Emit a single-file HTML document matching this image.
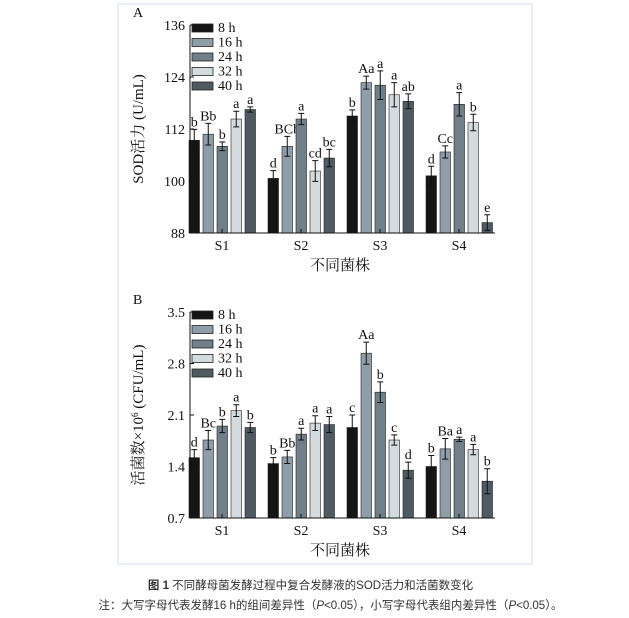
<!DOCTYPE html>
<html><head><meta charset="utf-8"><style>
body{margin:0;background:#fff;width:629px;height:618px;overflow:hidden;position:relative;font-family:"Liberation Serif","Noto Serif CJK SC",serif}
.cap{position:absolute;left:0;width:629px;text-align:center;font-family:"Liberation Sans","Noto Sans CJK SC",sans-serif;font-size:11.5px;color:#333;white-space:nowrap}
</style></head><body>
<svg id="fig" width="629" height="570" style="position:absolute;left:0;top:0" font-family="Liberation Serif, Noto Serif CJK SC, serif">
<rect x="118" y="4" width="414" height="560" fill="none" stroke="#d6e0e4" stroke-width="1"/>
</svg>
<div class="cap" style="top:577px;left:-4px"><b>图 1</b> 不同酵母菌发酵过程中复合发酵液的SOD活力和活菌数变化</div>
<div class="cap" style="top:597px;left:16px">注：大写字母代表发酵16 h的组间差异性（<i>P</i>&lt;0.05），小写字母代表组内差异性（<i>P</i>&lt;0.05）。</div>
<script>
const groups=["S1","S2","S3","S4"];
const seriesNames=["8 h","16 h","24 h","32 h","40 h"];
const sodValues=[[109.4,110.8,108.0,114.3,116.5],[100.6,108.0,114.3,102.3,105.3],[115.0,122.7,122.1,119.9,118.4],[101.2,106.7,117.7,113.5,90.4]];
const sodErrors=[[2.5,2.5,1.0,1.8,0.6],[1.8,2.3,1.3,2.4,2.0],[1.4,1.5,3.3,2.8,1.7],[2.2,1.4,2.7,1.9,1.8]];
const sodLabels=[["b","Bb","b","a","a"],["d","BCb","a","cd","bc"],["b","Aa","a","a","ab"],["d","Cc","a","b","e"]];
const sodTicks=[88,100,112,124,136];
const cfuValues=[[1.52,1.76,1.95,2.16,1.93],[1.44,1.53,1.84,1.99,1.97],[1.93,2.94,2.41,1.76,1.35],[1.40,1.64,1.77,1.63,1.20]];
const cfuErrors=[[0.11,0.13,0.09,0.08,0.07],[0.08,0.09,0.08,0.10,0.11],[0.17,0.15,0.14,0.07,0.11],[0.15,0.14,0.03,0.07,0.17]];
const cfuLabels=[["d","Bc","b","a","b"],["b","Bb","a","a","a"],["c","Aa","b","c","d"],["b","Ba","a","a","b"]];
const cfuTicks=[0.7,1.4,2.1,2.8,3.5];
const colors=["#151515","#8e9ea9","#6f8089","#d3dbde","#4e5b61"];
const NS="http://www.w3.org/2000/svg";
const svg=document.getElementById('fig');
function mk(tag,attrs,parent){const e=document.createElementNS(NS,tag);for(const k in attrs)e.setAttribute(k,attrs[k]);(parent||svg).appendChild(e);return e;}
function panel(p){
  const g=mk('g',{});
  
  
  const x0=190,xEnd=495,top=p.top,bot=p.bot,min=p.ticks[0],max=p.ticks[p.ticks.length-1];
  const y=v=>bot-(v-min)/(max-min)*(bot-top);
  const xs=(gi,si)=>189+gi*79+si*14;
  p.values.forEach((row,gi)=>row.forEach((v,si)=>{
    const bx=xs(gi,si),by=y(v);
    const r=mk('rect',{x:bx,y:by,width:10.5,height:bot-by,fill:colors[si],stroke:'#222','stroke-width':0.6},g);
    
    
    const e=p.errors[gi][si],cx=bx+5.25,yt=y(v+e),yb=y(v-e);
    const eb=mk('path',{d:`M${cx} ${yt}V${yb}M${cx-3} ${yt}H${cx+3}M${cx-3} ${yb}H${cx+3}`,stroke:'#111','stroke-width':1,fill:'none'},g);
    
    
    const t=mk('text',{x:cx,y:yt-3,'text-anchor':'middle','font-size':14,fill:'#111'},g);
    
    
    t.textContent=p.labels[gi][si];
  }));
  const ax=mk('path',{d:`M${x0} ${top}V${bot}H${xEnd}`,stroke:'#111','stroke-width':1,fill:'none'},g);
  
  
  p.ticks.forEach(tv=>{
    const ty=y(tv);
    mk('path',{d:`M${x0} ${ty}H${x0+4}`,stroke:'#111'},g);
    const t=mk('text',{x:x0-5,y:ty+5,'text-anchor':'end','font-size':14,fill:'#111'},g);
    
    
    t.textContent=p.fmt(tv);
  });
  groups.forEach((gn,gi)=>{
    const cx=xs(gi,0)+33;
    mk('path',{d:`M${cx} ${bot}V${bot-4}`,stroke:'#111'},g);
    const t=mk('text',{x:cx,y:bot+17,'text-anchor':'middle','font-size':14,fill:'#111'},g);
    
    
    t.textContent=gn;
  });
  const xt=mk('text',{x:340,y:bot+37,'text-anchor':'middle','font-size':15,fill:'#111'},g);
  
  
  xt.textContent='不同菌株';
  const yt=mk('text',{x:0,y:0,'text-anchor':'middle','font-size':15,fill:'#111',transform:`translate(143 ${(top+bot)/2}) rotate(-90)`},g);
  
  
  yt.innerHTML=p.ytitle;
  const pl=mk('text',{x:133,y:top-8,'font-size':14,fill:'#111'},g);
  
  
  pl.textContent=p.letter;
  seriesNames.forEach((s,si)=>{
    const ly=top+2+si*14.5;
    const r=mk('rect',{x:192,y:ly-3,width:21,height:8,fill:colors[si],stroke:'#222','stroke-width':0.8},g);
    
    
    const t=mk('text',{x:218,y:ly+5,'font-size':14,fill:'#111'},g);
    
    
    t.textContent=s;
  });
}
panel({name:'sod-chart',letter:'A',top:25,bot:233,ticks:sodTicks,values:sodValues,errors:sodErrors,labels:sodLabels,fmt:v=>String(v),ytitle:'SOD活力 (U/mL)'});
panel({name:'cfu-chart',letter:'B',top:312,bot:518,ticks:cfuTicks,values:cfuValues,errors:cfuErrors,labels:cfuLabels,fmt:v=>v.toFixed(1),ytitle:'活菌数×10<tspan dy="-5" font-size="9">6</tspan><tspan dy="5"> (CFU/mL)</tspan>'});
</script>
</body></html>
